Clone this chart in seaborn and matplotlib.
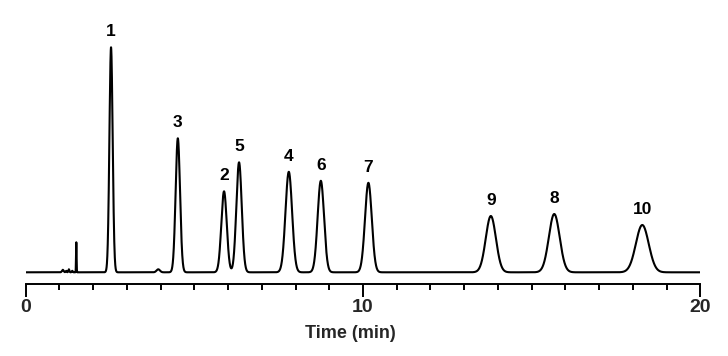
import numpy as np
import pandas as pd
import matplotlib
matplotlib.use("Agg")
import matplotlib.pyplot as plt
import seaborn as sns
from matplotlib.ticker import MultipleLocator

# Peak table (time in min, height in detector units, sigma in min)
peak_labels = ["1", "3", "2", "5", "4", "6", "7", "9", "8", "10"]
peak_times = [2.53, 4.51, 5.88, 6.325, 7.80, 8.75, 10.16, 13.79, 15.67, 18.28]
peak_heights = [225.0, 134.0, 81.0, 110.0, 100.5, 91.5, 89.5, 56.3, 58.3, 47.3]
peak_sigmas = [0.048, 0.065, 0.08, 0.08, 0.098, 0.095, 0.10, 0.15, 0.16, 0.19]

# Minor unlabeled features (solvent spike and baseline bumps)
minor_times = [1.10, 1.20, 1.28, 1.38, 1.50, 3.93]
minor_heights = [2.5, 1.5, 3.0, 1.5, 30.0, 3.0]
minor_sigmas = [0.025, 0.015, 0.015, 0.015, 0.008, 0.05]

x_ticks = [0, 10, 20]

t = np.linspace(0, 20, 10001)
signal = np.zeros_like(t)
for c, h, s in zip(peak_times + minor_times, peak_heights + minor_heights,
                   peak_sigmas + minor_sigmas):
    signal += h * np.exp(-0.5 * ((t - c) / s) ** 2)
df = pd.DataFrame({"Time (min)": t, "signal": signal})

sns.set_style("white")
plt.rcParams["font.family"] = ["Liberation Sans", "DejaVu Sans"]
plt.rcParams["font.weight"] = "bold"

fig = plt.figure(figsize=(7.28, 3.56), dpi=100)
W, H = 728, 356
ax_left, ax_right, ax_bottom, ax_top = 25.7, 700.3, 284.3, 20.0
ax = fig.add_axes([ax_left / W, (H - ax_bottom) / H,
                   (ax_right - ax_left) / W, (ax_bottom - ax_top) / H])

sns.lineplot(data=df, x="Time (min)", y="signal", ax=ax, color="black",
             linewidth=1.5, estimator=None)

ax.set_xlim(0, 20)
ax.set_ylim(-12, ax_bottom - ax_top - 12)

for lab, pt, ph in zip(peak_labels, peak_times, peak_heights):
    ax.text(pt, ph + 11, lab, ha="center", va="baseline", fontsize=12.5,
            fontweight="bold", color="black")

for side in ["left", "right", "top"]:
    ax.spines[side].set_visible(False)
ax.spines["bottom"].set_linewidth(1.4)
ax.spines["bottom"].set_color("black")
ax.set_yticks([])
ax.set_xticks(x_ticks)
ax.xaxis.set_minor_locator(MultipleLocator(1))
ax.tick_params(axis="x", which="major", direction="out", length=9, width=1.4,
               color="black", labelsize=14, pad=1.5, bottom=True)
ax.tick_params(axis="x", which="minor", direction="out", length=4.6, width=1.4,
               color="black", bottom=True)
for lbl in ax.get_xticklabels():
    lbl.set_fontweight("bold")
ax.set_ylabel("")
ax.set_xlabel("Time (min)", fontsize=13, fontweight="bold")
ax.xaxis.set_label_coords(0.481, -0.1536)
ax.xaxis.label.set_va("top")

fig.savefig("out.png", dpi=100)
